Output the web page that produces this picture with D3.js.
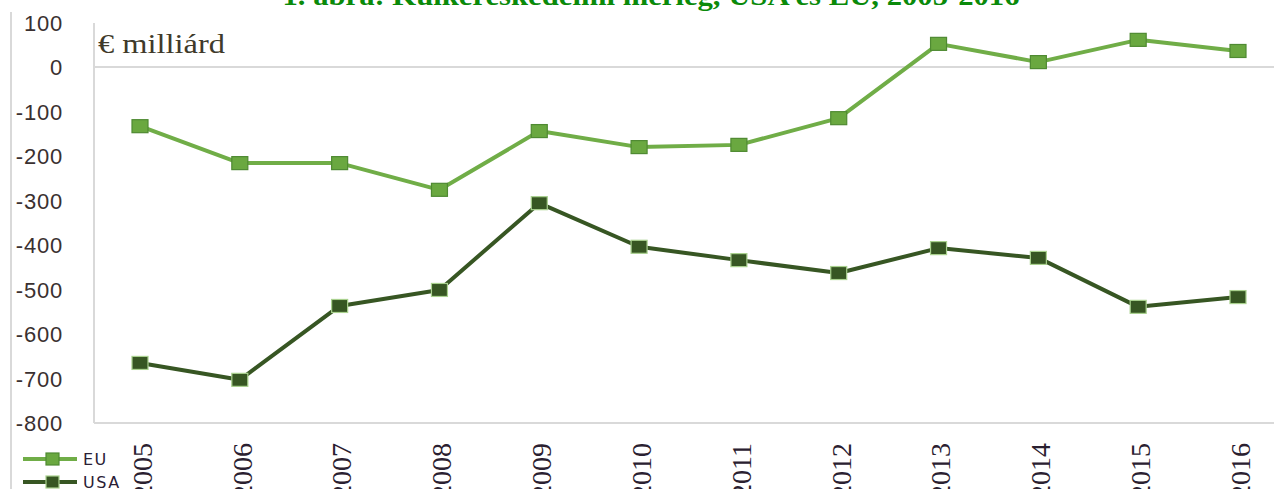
<!DOCTYPE html>
<html>
<head>
<meta charset="utf-8">
<script src="https://cdn.jsdelivr.net/npm/d3@7/dist/d3.min.js"></script>
<style>
  html, body { margin: 0; padding: 0; background: #fff; }
  svg { display: block; }
</style>
</head>
<body>
<svg id="chart" width="1274" height="489"></svg>
<script>
const years = ["2005","2006","2007","2008","2009","2010","2011","2012","2013","2014","2015","2016"];
const euValues = [-133, -216, -216, -276, -144, -180, -175, -115, 52, 11, 61, 36];
const usaValues = [-665, -703, -537, -501, -306, -404, -434, -463, -407, -429, -539, -517];
const yTicks = [100, 0, -100, -200, -300, -400, -500, -600, -700, -800];
const seriesNames = ["EU", "USA"];
const titleText = "1. ábra: Külkereskedelmi mérleg, USA és EU, 2005-2016";
const unitText = "€ milliárd";

const svg = d3.select("#chart");
const W = 1274, H = 489;

const x = d3.scalePoint().domain(years).range([140, 1238]);
const y = d3.scaleLinear().domain([-800, 100]).range([423, 22.5]);

// title (mostly cut off at the top, as in the reference)
svg.append("text")
  .attr("x", 651).attr("y", 5)
  .attr("text-anchor", "middle")
  .attr("font-family", "Liberation Serif, serif")
  .attr("font-weight", "bold")
  .attr("font-size", 27)
  .attr("fill", "#0a8a0a")
  .attr("textLength", 737)
  .attr("lengthAdjust", "spacingAndGlyphs")
  .text(titleText);

// far-left frame line
svg.append("line")
  .attr("x1", 11).attr("x2", 11).attr("y1", 12).attr("y2", H)
  .attr("stroke", "#d9d9d9").attr("stroke-width", 2);

// y-axis labels
const yAxis = d3.axisLeft(y).tickValues(yTicks).tickSize(0).tickPadding(0)
  .tickFormat(d => String(d));
const gy = svg.append("g").attr("transform", "translate(63,0)").call(yAxis);
gy.select(".domain").remove();
gy.selectAll("text")
  .attr("font-family", "Liberation Sans, Arial, sans-serif")
  .attr("font-size", 22)
  .attr("letter-spacing", 0.8)
  .attr("fill", "#3a3030")
  .attr("dy", "0.36em");

// plot frame lines
svg.append("line")
  .attr("x1", 94).attr("x2", 94).attr("y1", 23).attr("y2", y(-800))
  .attr("stroke", "#d9d9d9").attr("stroke-width", 2);
svg.append("line")
  .attr("x1", 94).attr("x2", W).attr("y1", y(0)).attr("y2", y(0))
  .attr("stroke", "#d9d9d9").attr("stroke-width", 2);
svg.append("line")
  .attr("x1", 94).attr("x2", W).attr("y1", y(-800)).attr("y2", y(-800))
  .attr("stroke", "#d9d9d9").attr("stroke-width", 2);

// unit label
svg.append("text")
  .attr("x", 98).attr("y", 53)
  .attr("font-family", "Liberation Serif, serif")
  .attr("font-size", 27)
  .attr("fill", "#403a2a")
  .attr("textLength", 127)
  .attr("lengthAdjust", "spacingAndGlyphs")
  .text(unitText);

// x-axis labels (rotated)
const xAxis = d3.axisBottom(x).tickSize(0).tickPadding(0);
const gx = svg.append("g").call(xAxis);
gx.select(".domain").remove();
gx.selectAll(".tick").attr("transform", d => `translate(${x(d)},0)`);
gx.selectAll("text")
  .attr("transform", "translate(2,443) rotate(-90)")
  .attr("x", 0).attr("y", 0).attr("dy", "0.35em")
  .attr("text-anchor", "end")
  .attr("font-family", "Liberation Serif, serif")
  .attr("font-size", 28)
  .attr("fill", "#2a2030");

// series
const series = [
  { name: seriesNames[0], values: euValues, line: "#70ad47", fill: "#6aa840", stroke: "#4f8a32" },
  { name: seriesNames[1], values: usaValues, line: "#375623", fill: "#375623", stroke: "#a9d18e" }
];

const lineGen = d3.line().x((d, i) => x(years[i])).y(d => y(d));

series.forEach(s => {
  svg.append("path")
    .datum(s.values)
    .attr("d", lineGen)
    .attr("fill", "none")
    .attr("stroke", s.line)
    .attr("stroke-width", 4)
    .attr("stroke-linejoin", "round");
  svg.selectAll(null)
    .data(s.values)
    .enter().append("rect")
    .attr("x", (d, i) => x(years[i]) - 8)
    .attr("y", d => y(d) - 6.5)
    .attr("width", 16).attr("height", 13)
    .attr("fill", s.fill)
    .attr("stroke", s.stroke)
    .attr("stroke-width", 1.2);
});

// legend
const legendY = [459, 482];
series.forEach((s, i) => {
  const g = svg.append("g");
  g.append("line")
    .attr("x1", 23).attr("x2", 77).attr("y1", legendY[i]).attr("y2", legendY[i])
    .attr("stroke", s.line).attr("stroke-width", 4);
  g.append("rect")
    .attr("x", 46).attr("y", legendY[i] - 6).attr("width", 13).attr("height", 12)
    .attr("fill", s.fill).attr("stroke", s.stroke).attr("stroke-width", 1.2);
  g.append("text")
    .attr("x", 83).attr("y", legendY[i]).attr("dy", "0.36em")
    .attr("font-family", "DejaVu Sans, sans-serif")
    .attr("font-size", 16)
    .attr("letter-spacing", 1.5)
    .attr("fill", "#2a2035")
    .text(s.name);
});
</script>
</body>
</html>
